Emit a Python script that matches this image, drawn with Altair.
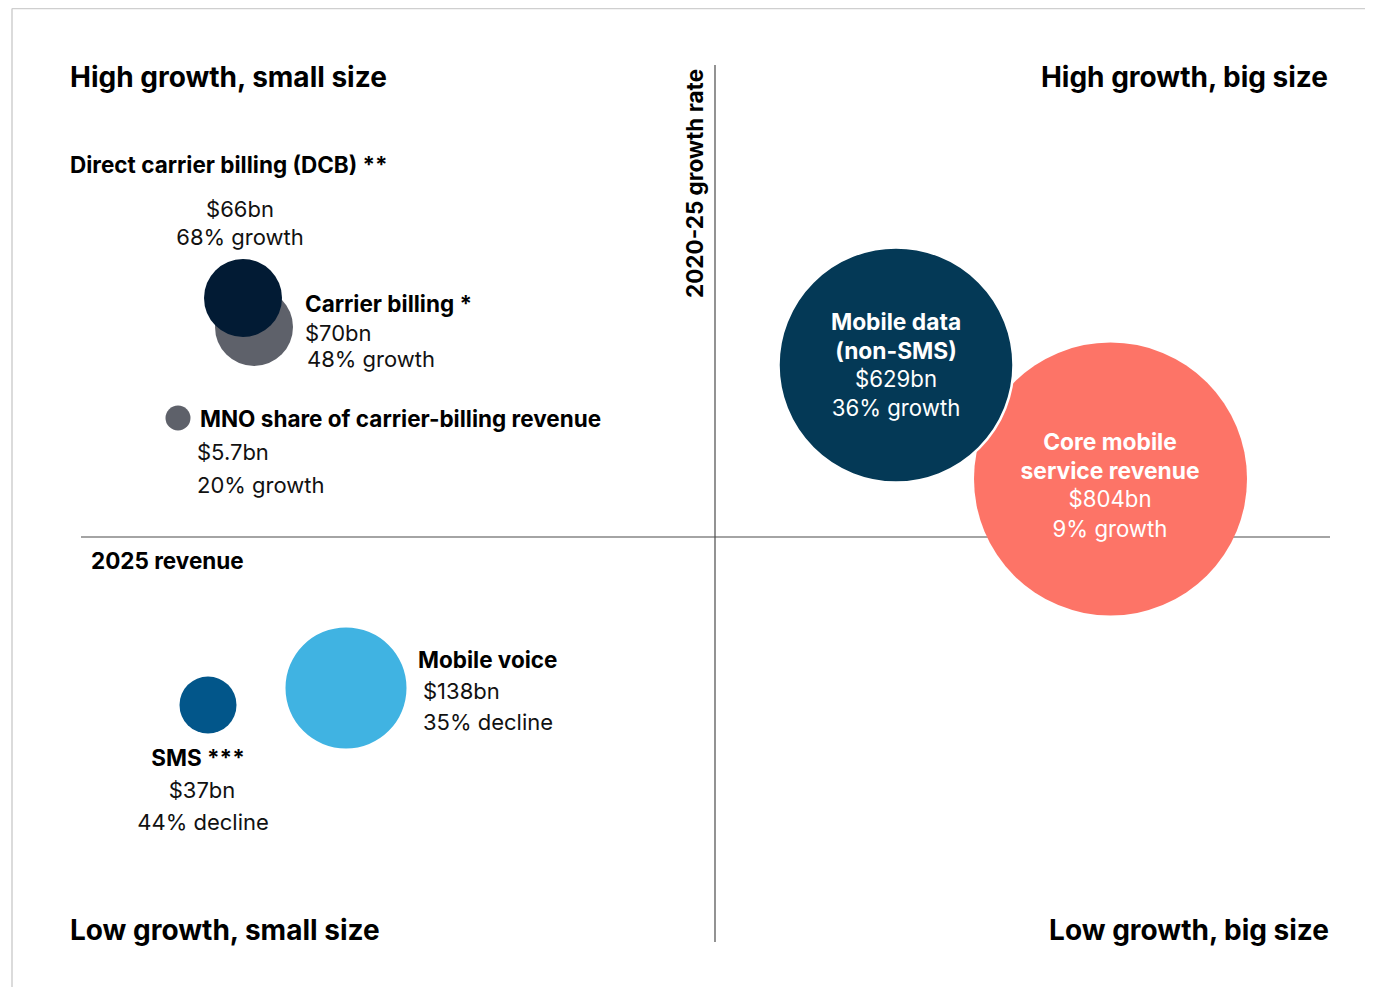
import altair as alt
import pandas as pd

# ---------------- data ----------------
# Bubble positions in a quadrant coordinate system: x = relative size, y = relative growth
# (the cross-hair is at 0,0; one unit is one pixel of the plot)
bubble_names = ["Core mobile service revenue", "Mobile data (non-SMS)", "Carrier billing",
                "Direct carrier billing (DCB)", "MNO share of carrier-billing revenue",
                "Mobile voice", "SMS"]
bubble_x = [395.5, 181, -461, -472, -537, -369, -507]
bubble_y = [58, 172, 210, 239, 119, -151, -168]
bubble_r = [136.5, 117.5, 39, 39, 12.5, 60.5, 28.5]

bubble_colors = ["#FD7467", "#043956", "#5E616A", "#021B34", "#5E616A", "#40B3E2", "#02568A"]

# annotation text (x, y in the same coordinate system, y at the text baseline)
label_text = [
    "High growth, small size", "High growth, big size",
    "Low growth, small size", "Low growth, big size",
    "Direct carrier billing (DCB) **", "Carrier billing *",
    "MNO share of carrier-billing revenue", "2025 revenue", "Mobile voice",
    "SMS ***",
    "$66bn", "68% growth",
    "$70bn", "48% growth", "$5.7bn", "20% growth", "$138bn", "35% decline",
    "$37bn", "44% decline",
    "Mobile data", "(non-SMS)", "Core mobile", "service revenue",
    "$629bn", "36% growth", "$804bn", "9% growth",
    "2020-25 growth rate",
]
label_x = [
    -645, 613,
    -645, 614,
    -645, -410,
    -515, -624, -297,
    -517,
    -475, -475,
    -410, -408, -518, -518, -292, -292,
    -513, -512,
    181, 181, 395, 395,
    181, 181, 395, 395,
    -19,
]
label_y = [
    450, 450,
    -403, -403,
    364, 225,
    110, -32, -131,
    -229,
    320, 292,
    196, 170, 77, 44, -162, -193,
    -261, -293,
    207, 178, 87, 58,
    150, 121, 30, 0,
    239,
]
label_kind = [
    "quad", "quad",
    "quad", "quad",
    "head", "head",
    "head", "head", "head",
    "head",
    "value", "value",
    "value", "value", "value", "value", "value", "value",
    "value", "value",
    "inhead", "inhead", "inhead", "inhead",
    "invalue", "invalue", "invalue", "invalue",
    "axis",
]
label_align = [
    "left", "right",
    "left", "right",
    "left", "left",
    "left", "left", "left",
    "center",
    "center", "center",
    "left", "left", "left", "left", "left", "left",
    "center", "center",
    "center", "center", "center", "center",
    "center", "center", "center", "center",
    "left",
]

# guide lines: the two quadrant axes and the light frame
axis_x = [0, -634]
axis_x2 = [0, 615]
axis_y = [472, 0]
axis_y2 = [-405, 0]

frame_x = [-703, -703]
frame_x2 = [650, -703]
frame_y = [528.5, 528.5]
frame_y2 = [528.5, -450]

# ---------------- layout ----------------
W, H = 1357, 979
XMIN, XMAX = -707, 650
YMIN, YMAX = -450, 529
xs = alt.Scale(domain=[XMIN, XMAX], nice=False, zero=False)
ys = alt.Scale(domain=[YMIN, YMAX], nice=False, zero=False)
FONT = "Inter"

# Vega symbol size is the area of the bounding square: (2r)^2
bubbles = pd.DataFrame({
    "name": bubble_names, "x": bubble_x, "y": bubble_y,
    "area": [(2 * r) ** 2 for r in bubble_r],
})
labels = pd.DataFrame({"text": label_text, "x": label_x, "y": label_y,
                       "kind": label_kind, "align": label_align})
axes_df = pd.DataFrame({"x": axis_x, "x2": axis_x2, "y": axis_y, "y2": axis_y2})
frame_df = pd.DataFrame({"x": frame_x, "x2": frame_x2, "y": frame_y, "y2": frame_y2})

frame = alt.Chart(frame_df).mark_rule(color="#cfcfcf", strokeWidth=1.5).encode(
    x=alt.X("x:Q", scale=xs, axis=None), x2="x2:Q",
    y=alt.Y("y:Q", scale=ys, axis=None), y2="y2:Q",
)
axes = alt.Chart(axes_df).mark_rule(color="#4a4a4a", strokeWidth=1.2).encode(
    x=alt.X("x:Q", scale=xs, axis=None), x2="x2:Q",
    y=alt.Y("y:Q", scale=ys, axis=None), y2="y2:Q",
)

circles = alt.Chart(bubbles).mark_circle(opacity=1, stroke="white").encode(
    x=alt.X("x:Q", scale=xs, axis=None),
    y=alt.Y("y:Q", scale=ys, axis=None),
    size=alt.Size("area:Q", scale=None, legend=None),
    color=alt.Color("name:N", scale=alt.Scale(domain=bubble_names, range=bubble_colors), legend=None),
    strokeWidth=alt.condition(alt.datum.name == "Mobile data (non-SMS)", alt.value(2.5), alt.value(0)),
    order=alt.Order("idx:Q"),
).transform_window(idx="row_number()")

styles = {
    "quad": dict(fontSize=28, fontWeight="bold", color="#000000"),
    "head": dict(fontSize=22.5, fontWeight="bold", color="#000000"),
    "value": dict(fontSize=22, fontWeight="normal", color="#111111"),
    "inhead": dict(fontSize=22.8, fontWeight="bold", color="#ffffff"),
    "invalue": dict(fontSize=22.2, fontWeight="normal", color="#ffffff"),
    "axis": dict(fontSize=22.5, fontWeight="bold", color="#000000", angle=270),
}

text_layers = []
for (kind, align), sub in labels.groupby(["kind", "align"], sort=False):
    st = dict(styles[kind])
    baseline = "middle" if kind == "axis" else "alphabetic"
    text_layers.append(
        alt.Chart(sub.reset_index(drop=True)).mark_text(
            font=FONT, align=align, baseline=baseline, **st
        ).encode(
            x=alt.X("x:Q", scale=xs, axis=None),
            y=alt.Y("y:Q", scale=ys, axis=None),
            text="text:N",
        )
    )

chart = alt.layer(frame, axes, circles, *text_layers).properties(
    width=W, height=H, padding=0, autosize=alt.AutoSizeParams(type="none"),
    background="white",
).configure_view(stroke=None)

chart.save("out.html", embed_options={"renderer": "svg", "actions": False})
